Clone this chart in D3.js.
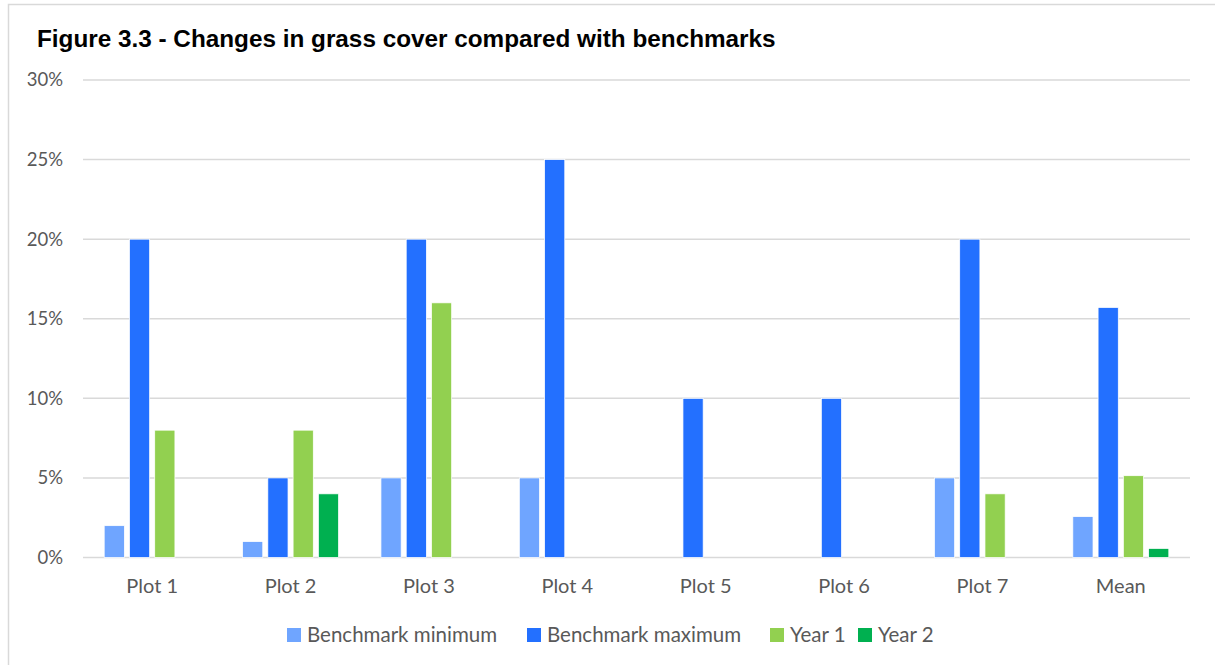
<!DOCTYPE html>
<html>
<head>
<meta charset="utf-8">
<script src="https://cdn.jsdelivr.net/npm/d3@7"></script>
<style>
  body { margin: 0; background: #fff; }
  svg { display: block; }
</style>
</head>
<body>
<div id="chart"></div>
<script>
const categories = ['Plot 1', 'Plot 2', 'Plot 3', 'Plot 4', 'Plot 5', 'Plot 6', 'Plot 7', 'Mean'];
const seriesNames = ['Benchmark minimum', 'Benchmark maximum', 'Year 1', 'Year 2'];
const benchmarkMin = [2, 1, 5, 5, 0, 0, 5, 2.57];
const benchmarkMax = [20, 5, 20, 25, 10, 10, 20, 15.71];
const year1 = [8, 8, 16, 0, 0, 0, 4, 5.14];
const year2 = [0, 4, 0, 0, 0, 0, 0, 0.57];
const yTicks = [0, 5, 10, 15, 20, 25, 30];
const colors = ['#6fa5ff', '#2370ff', '#92d050', '#00b050'];

const W = 1215, H = 665;
const plot = { left: 83, right: 1190, top: 80, bottom: 557.5 };

const svg = d3.select('#chart').append('svg')
  .attr('width', W)
  .attr('height', H);

// chart frame (only top + left visible in the crop)
svg.append('rect')
  .attr('x', 8.5).attr('y', 4.5)
  .attr('width', 1240).attr('height', 700)
  .attr('fill', 'none')
  .attr('stroke', '#d9d9d9')
  .attr('stroke-width', 1.5);

svg.append('text')
  .attr('x', 37).attr('y', 47)
  .style('font-family', '"Liberation Sans", Arial, sans-serif')
  .style('font-weight', 'bold')
  .style('font-size', '24.3px')
  .attr('fill', '#000')
  .text('Figure 3.3 - Changes in grass cover compared with benchmarks');

const x0 = d3.scaleBand()
  .domain(categories)
  .range([plot.left, plot.right]);

const groupW = 96;
const x1 = d3.scaleBand()
  .domain(seriesNames)
  .range([0, groupW])
  .paddingInner(0.2);

const y = d3.scaleLinear()
  .domain([0, 30])
  .range([plot.bottom, plot.top]);

const labelFont = 'Lato, "Open Sans", sans-serif';

// gridlines
svg.append('g')
  .selectAll('line')
  .data(yTicks)
  .enter()
  .append('line')
  .attr('x1', plot.left).attr('x2', plot.right)
  .attr('y1', d => y(d)).attr('y2', d => y(d))
  .attr('stroke', '#d9d9d9')
  .attr('stroke-width', 1.5);

// y axis labels
const yAxis = svg.append('g')
  .attr('transform', `translate(${plot.left - 20},0)`)
  .call(d3.axisLeft(y).tickValues(yTicks).tickFormat(d => d + '%').tickSize(0).tickPadding(0));
yAxis.select('.domain').remove();
yAxis.selectAll('text')
  .style('font-family', labelFont)
  .style('font-size', '18.5px')
  .attr('fill', '#595959');

// x axis labels
const xAxis = svg.append('g')
  .attr('transform', `translate(0,${plot.bottom})`)
  .call(d3.axisBottom(x0).tickSize(0).tickPadding(21));
xAxis.select('.domain').remove();
xAxis.selectAll('text')
  .style('font-family', labelFont)
  .style('font-size', '20px')
  .attr('fill', '#595959');

// bars
const seriesValues = [benchmarkMin, benchmarkMax, year1, year2];
const rows = [];
categories.forEach((c, i) => {
  seriesNames.forEach((s, j) => {
    rows.push({ cat: c, series: s, idx: j, value: seriesValues[j][i] });
  });
});

const groupOffset = (x0.bandwidth() - groupW) / 2;
svg.append('g')
  .selectAll('rect')
  .data(rows.filter(d => d.value > 0))
  .enter()
  .append('rect')
  .attr('x', d => x0(d.cat) + groupOffset + x1(d.series))
  .attr('y', d => y(d.value))
  .attr('width', x1.bandwidth())
  .attr('height', d => y(0) - y(d.value))
  .attr('fill', d => colors[d.idx])
  .attr('stroke', '#fff')
  .attr('stroke-width', 0.75);

// legend
const legendX = [287, 527, 770, 858];
const legend = svg.append('g')
  .selectAll('g')
  .data(seriesNames)
  .enter()
  .append('g')
  .attr('transform', (d, i) => `translate(${legendX[i]},628)`);

legend.append('rect')
  .attr('width', 14).attr('height', 14)
  .attr('fill', (d, i) => colors[i]);

legend.append('text')
  .attr('x', 20).attr('y', 14)
  .style('font-family', labelFont)
  .style('font-size', '20.5px')
  .attr('fill', '#595959')
  .text(d => d);
</script>
</body>
</html>
